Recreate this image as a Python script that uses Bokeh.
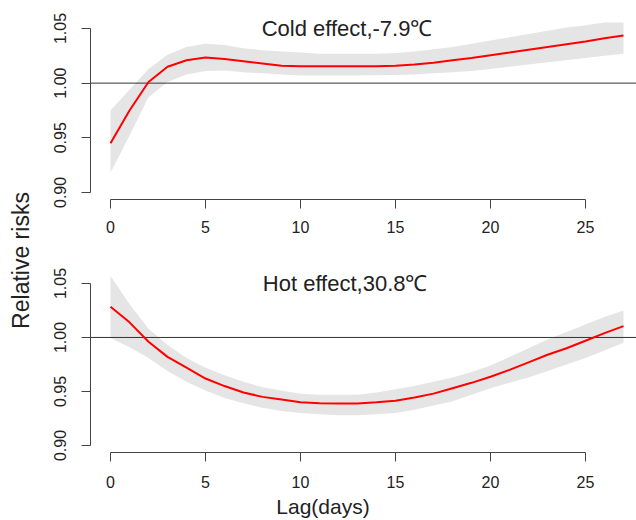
import math
from bokeh.plotting import figure
from bokeh.layouts import row, column
from bokeh.models import Range1d, FixedTicker, Label, Span, PrintfTickFormatter
from bokeh.core.properties import value
from bokeh.embed import file_html
from bokeh.resources import INLINE

# ---------------- data ----------------
lags = list(range(28))

cold_rr = [0.945, 0.975, 1.001, 1.015, 1.021, 1.0235, 1.022, 1.020, 1.018, 1.016,
           1.0155, 1.0155, 1.0155, 1.0155, 1.0155, 1.016, 1.017, 1.0186, 1.021, 1.023,
           1.0256, 1.028, 1.0305, 1.033, 1.0355, 1.038, 1.041, 1.0436]
cold_low = [0.918, 0.952, 0.987, 1.001, 1.008, 1.011, 1.0115, 1.010, 1.009, 1.008,
            1.007, 1.007, 1.007, 1.007, 1.0072, 1.0075, 1.008, 1.009, 1.010, 1.011,
            1.013, 1.015, 1.017, 1.019, 1.021, 1.023, 1.025, 1.027]
cold_high = [0.975, 0.994, 1.013, 1.026, 1.033, 1.036, 1.035, 1.032, 1.030, 1.029,
             1.028, 1.027, 1.027, 1.027, 1.027, 1.0275, 1.029, 1.031, 1.033, 1.036,
             1.039, 1.042, 1.045, 1.048, 1.051, 1.053, 1.0555, 1.0555]

hot_rr = [1.0284, 1.014, 0.996, 0.982, 0.972, 0.962, 0.955, 0.949, 0.945, 0.9425,
          0.940, 0.939, 0.9388, 0.9388, 0.940, 0.9414, 0.9445, 0.948, 0.953, 0.958,
          0.9636, 0.970, 0.977, 0.984, 0.990, 0.997, 1.004, 1.0105]
hot_low = [0.9995, 0.991, 0.981, 0.969, 0.959, 0.951, 0.944, 0.939, 0.935, 0.932,
           0.930, 0.929, 0.928, 0.928, 0.929, 0.930, 0.933, 0.937, 0.941, 0.947,
           0.953, 0.958, 0.963, 0.969, 0.975, 0.981, 0.988, 0.995]
hot_high = [1.057, 1.031, 1.008, 0.993, 0.981, 0.972, 0.965, 0.959, 0.954, 0.951,
            0.948, 0.947, 0.947, 0.947, 0.949, 0.952, 0.955, 0.959, 0.963, 0.968,
            0.974, 0.982, 0.990, 0.998, 1.005, 1.012, 1.019, 1.025]

x_ticks = [0, 5, 10, 15, 20, 25]
y_ticks = [0.90, 0.95, 1.00, 1.05]
panel_titles = ["Cold effect,-7.9\u2103", "Hot effect,30.8\u2103"]
ref_level = 1.0
y_label = "Relative risks"
x_label = "Lag(days)"

FONT = "Liberation Sans"
TXT = "#222222"
AX = "#444444"


def panel(rr, low, high, title, height, b_top, b_bottom, y_top, title_x, x_standoff):
    p = figure(width=588, height=height, output_backend="svg", toolbar_location=None,
               title=None,
               x_range=Range1d(-1.053, 27.684), y_range=Range1d(0.8935, y_top),
               min_border_left=42, min_border_right=0,
               min_border_top=b_top, min_border_bottom=b_bottom)
    p.outline_line_color = None
    p.grid.visible = False
    p.background_fill_color = "white"
    p.border_fill_color = "white"

    band = p.varea(x=lags, y1=low, y2=high, fill_color="#E5E5E5")
    band.level = "image"
    p.add_layout(Span(location=ref_level, dimension="width", line_color="#333333",
                      line_width=1, level="underlay"))
    p.line(lags, rr, line_color="#FF0000", line_width=2)
    p.text(x=[title_x], y=[y_ticks[-1]], text=[title], text_font=value(FONT),
           text_font_size="22px", text_align="center", text_baseline="middle",
           text_color=TXT)

    p.xaxis.ticker = FixedTicker(ticks=x_ticks)
    p.xaxis.bounds = (min(x_ticks), max(x_ticks))
    p.yaxis.ticker = FixedTicker(ticks=y_ticks)
    p.yaxis.bounds = (min(y_ticks), max(y_ticks))
    p.yaxis.formatter = PrintfTickFormatter(format="%.2f")
    p.yaxis.major_label_orientation = "vertical"
    for ax in (p.xaxis, p.yaxis):
        ax.axis_line_color = AX
        ax.axis_line_width = 1
        ax.major_tick_line_color = AX
        ax.major_tick_out = 9
        ax.major_tick_in = 0
        ax.minor_tick_out = 0
        ax.minor_tick_in = 0
        ax.major_label_text_font = FONT
        ax.major_label_text_font_size = "16px"
        ax.major_label_text_color = TXT
    p.xaxis.major_label_standoff = x_standoff
    p.yaxis.major_label_standoff = 15
    return p


def blank(width, height):
    f = figure(width=width, height=height, output_backend="svg", toolbar_location=None,
               title=None, x_range=Range1d(0, 1), y_range=Range1d(0, 1),
               x_axis_location=None, y_axis_location=None, min_border=0)
    f.outline_line_color = None
    f.grid.visible = False
    return f


p1 = panel(cold_rr, cold_low, cold_high, panel_titles[0], 260, 8, 61, 1.0683, 12.45, 12)
p2 = panel(hot_rr, hot_low, hot_high, panel_titles[1], 233, 2, 41, 1.0694, 12.35, 14)

lab = blank(48, 493)
lab.add_layout(Label(x=20, y=233, x_units="screen", y_units="screen", text=y_label,
                     angle=math.pi / 2, text_align="center", text_baseline="middle",
                     text_font=FONT, text_font_size="23px", text_color=TXT))

xlab = blank(636, 27)
xlab.add_layout(Label(x=322.5, y=14, x_units="screen", y_units="screen", text=x_label,
                      text_align="center", text_baseline="middle",
                      text_font=FONT, text_font_size="21px", text_color=TXT))

layout = column(row(lab, column(p1, p2, spacing=0), spacing=0), xlab, spacing=0)

open("out.html", "w").write(file_html(layout, INLINE))
